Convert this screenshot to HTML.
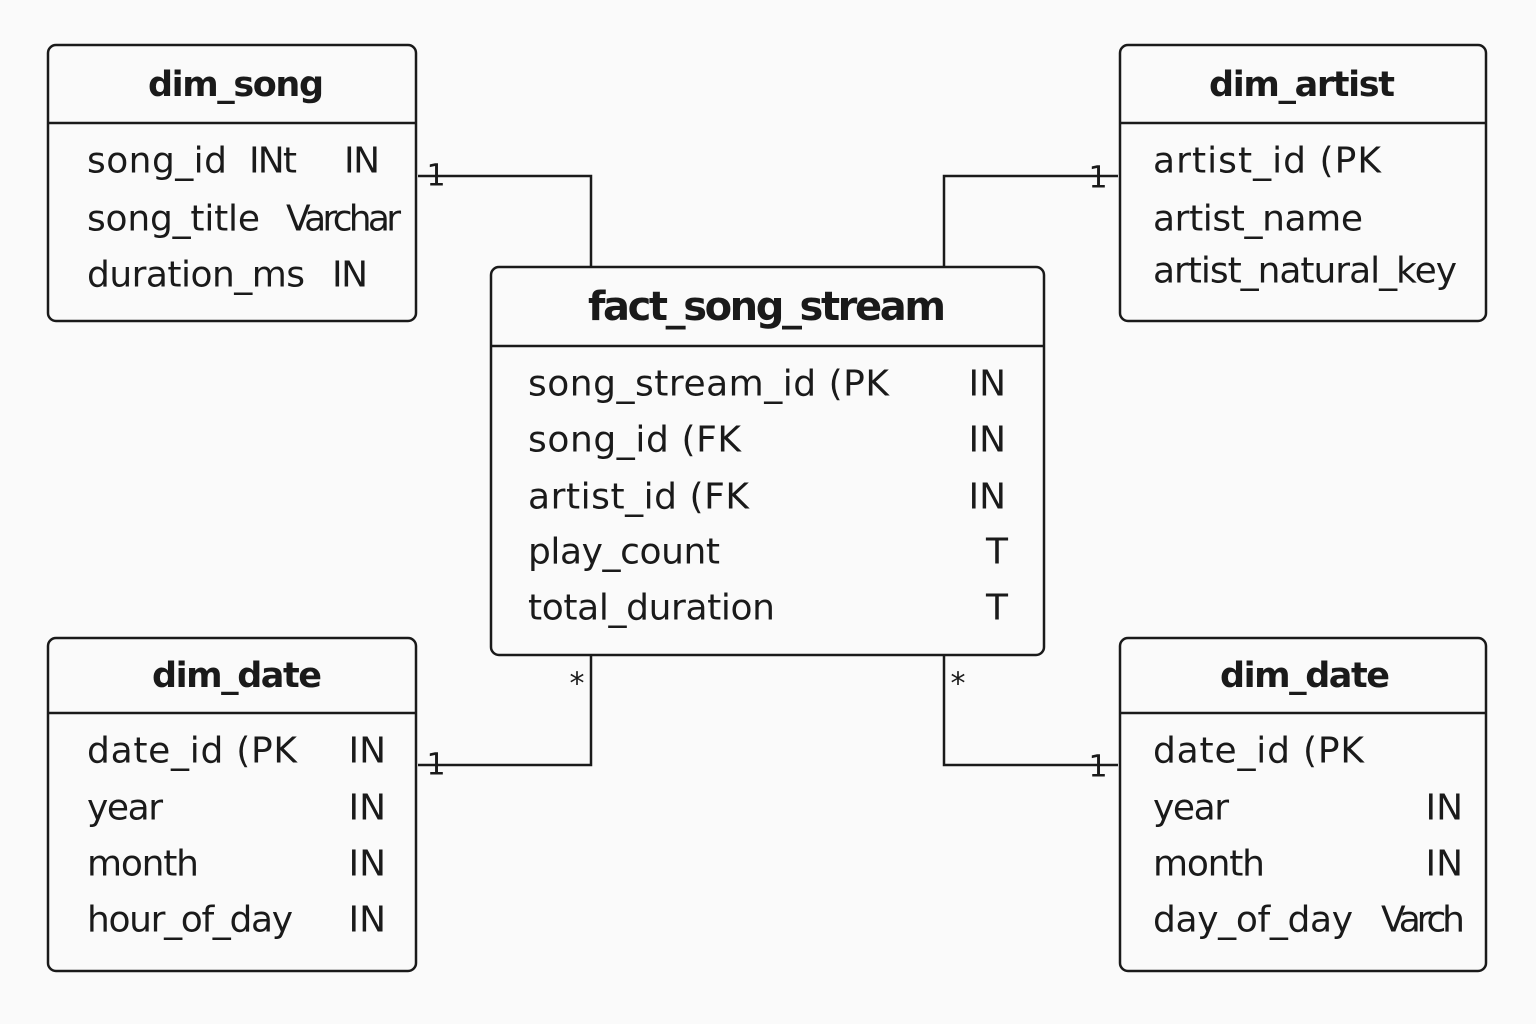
<!DOCTYPE html>
<html><head><meta charset="utf-8"><style>
html,body{margin:0;padding:0;background:#fafafa}
svg{display:block}
text{font-family:"DejaVu Sans","Liberation Sans",sans-serif;fill:#1a1a1a;dominant-baseline:central}
.t{font-weight:bold;font-size:35px;text-anchor:middle}
.f{font-size:36px}
.r{font-size:36px;text-anchor:end}
.ln{stroke:#1a1a1a;stroke-width:2.5;fill:none}
</style></head><body>
<svg width="1536" height="1024" viewBox="0 0 1536 1024">
<rect x="0" y="0" width="1536" height="1024" fill="#fafafa"/>
<polyline class="ln" points="418,176 591,176 591,267"/>
<polyline class="ln" points="1118,176 944,176 944,267"/>
<polyline class="ln" points="591,655 591,765 418,765"/>
<polyline class="ln" points="944,655 944,765 1118,765"/>
<text x="436" y="176" style="font-size:30px;text-anchor:middle">1</text>
<text x="1098" y="178" style="font-size:30px;text-anchor:middle">1</text>
<text x="436" y="765" style="font-size:30px;text-anchor:middle">1</text>
<text x="1098" y="767" style="font-size:30px;text-anchor:middle">1</text>
<text x="577" y="684" style="font-size:30px;text-anchor:middle">*</text>
<text x="958" y="684" style="font-size:30px;text-anchor:middle">*</text>

<rect class="ln" x="48" y="45" width="368" height="276" rx="8"/>
<line class="ln" x1="48" y1="123" x2="416" y2="123"/>
<text class="t" x="236" y="85" textLength="176">dim_song</text>
<text class="f" x="87" y="161" textLength="140">song_id</text>
<text class="f" x="249" y="161" textLength="48">INt</text>
<text class="f" x="344" y="161" textLength="36">IN</text>
<text class="f" x="87" y="219" textLength="173">song_title</text>
<text class="f" x="286" y="219" textLength="115">Varchar</text>
<text class="f" x="87" y="275" textLength="218">duration_ms</text>
<text class="f" x="332" y="275" textLength="36">IN</text>

<rect class="ln" x="1120" y="45" width="366" height="276" rx="8"/>
<line class="ln" x1="1120" y1="123" x2="1486" y2="123"/>
<text class="t" x="1302" y="85" textLength="186">dim_artist</text>
<text class="f" x="1153" y="161" textLength="228">artist_id  (PK</text>
<text class="f" x="1153" y="219" textLength="210">artist_name</text>
<text class="f" x="1153" y="271" textLength="304">artist_natural_key</text>

<rect class="ln" x="491" y="267" width="553" height="388" rx="8"/>
<line class="ln" x1="491" y1="346" x2="1044" y2="346"/>
<text class="t" x="767" y="307" style="font-size:40px" textLength="358">fact_song_stream</text>
<text class="f" x="528" y="384" textLength="361">song_stream_id  (PK</text>
<text class="f" x="528" y="440" textLength="213">song_id  (FK</text>
<text class="f" x="528" y="497" textLength="221">artist_id  (FK</text>
<text class="f" x="528" y="552" textLength="192">play_count</text>
<text class="f" x="528" y="608" textLength="247">total_duration</text>
<text class="r" x="1006" y="384">IN</text>
<text class="r" x="1006" y="440">IN</text>
<text class="r" x="1006" y="497">IN</text>
<text class="r" x="1008" y="552">T</text>
<text class="r" x="1008" y="608">T</text>

<rect class="ln" x="48" y="638" width="368" height="333" rx="8"/>
<line class="ln" x1="48" y1="713" x2="416" y2="713"/>
<text class="t" x="237" y="676" textLength="170">dim_date</text>
<text class="f" x="87" y="751" textLength="210">date_id  (PK</text>
<text class="f" x="87" y="808" textLength="76">year</text>
<text class="f" x="87" y="864" textLength="112">month</text>
<text class="f" x="87" y="920" textLength="206">hour_of_day</text>
<text class="r" x="386" y="751">IN</text>
<text class="r" x="386" y="808">IN</text>
<text class="r" x="386" y="864">IN</text>
<text class="r" x="386" y="920">IN</text>

<rect class="ln" x="1120" y="638" width="366" height="333" rx="8"/>
<line class="ln" x1="1120" y1="713" x2="1486" y2="713"/>
<text class="t" x="1305" y="676" textLength="170">dim_date</text>
<text class="f" x="1153" y="751" textLength="211">date_id  (PK</text>
<text class="f" x="1153" y="808" textLength="76">year</text>
<text class="f" x="1153" y="864" textLength="112">month</text>
<text class="f" x="1153" y="920" textLength="200">day_of_day</text>
<text class="r" x="1463" y="808">IN</text>
<text class="r" x="1463" y="864">IN</text>
<text class="f" x="1381" y="920" textLength="84">Varch</text>
</svg>
</body></html>
